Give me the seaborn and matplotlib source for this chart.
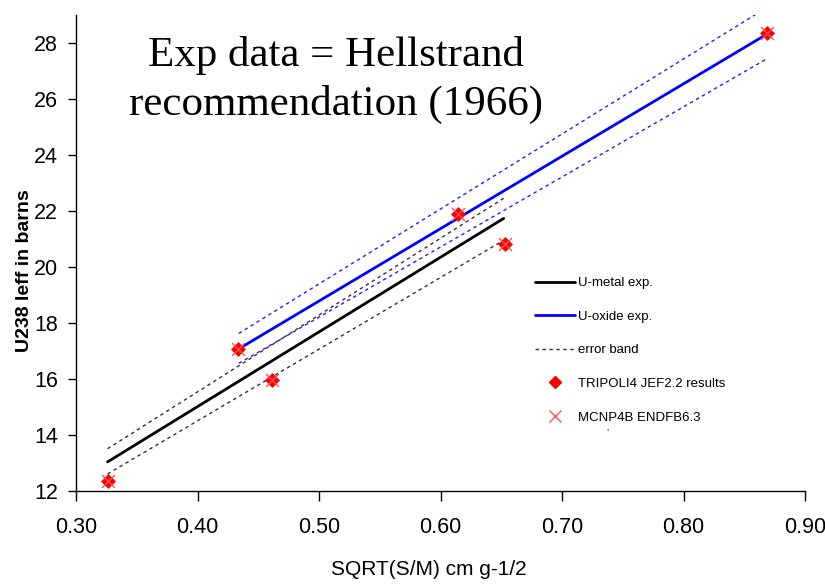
import matplotlib
matplotlib.use("Agg")
import matplotlib.pyplot as plt
from matplotlib.lines import Line2D
import seaborn as sns

# ---- data ----
metal_x = [0.326, 0.652]
metal_y = [13.03, 21.73]
metal_hi = [13.50, 22.45]
metal_lo = [12.60, 20.95]

oxide_x = [0.434, 0.868]
oxide_y = [17.07, 28.30]
oxide_hi = [17.62, 29.25]
oxide_lo = [16.55, 27.42]

calc_x = [0.326, 0.433, 0.461, 0.614, 0.653, 0.869]
tripoli_y = [12.34, 17.06, 15.94, 21.89, 20.80, 28.34]
mcnp_y = [12.34, 17.06, 15.94, 21.89, 20.80, 28.34]

x_ticks = [0.30, 0.40, 0.50, 0.60, 0.70, 0.80, 0.90]
y_ticks = [12, 14, 16, 18, 20, 22, 24, 26, 28]

sns.set_theme(style="white")
plt.rcParams["font.family"] = ["Liberation Sans", "DejaVu Sans"]
plt.rcParams["text.color"] = "black"
plt.rcParams["axes.labelcolor"] = "black"
plt.rcParams["xtick.color"] = "black"
plt.rcParams["ytick.color"] = "black"

fig = plt.figure(figsize=(8.25, 5.85), dpi=100)
ax = fig.add_axes([76 / 825, 1 - 490.7 / 585, 729 / 825, 475.7 / 585])

dash = (0, (2.5, 2.5))
sns.lineplot(x=metal_x, y=metal_hi, ax=ax, color="#333333", linewidth=1.0, linestyle=dash)
sns.lineplot(x=metal_x, y=metal_lo, ax=ax, color="#333333", linewidth=1.0, linestyle=dash)
sns.lineplot(x=oxide_x, y=oxide_hi, ax=ax, color="#2020ff", linewidth=1.0, linestyle=dash)
sns.lineplot(x=oxide_x, y=oxide_lo, ax=ax, color="#2020ff", linewidth=1.0, linestyle=dash)
sns.lineplot(x=metal_x, y=metal_y, ax=ax, color="black", linewidth=2.0)
sns.lineplot(x=oxide_x, y=oxide_y, ax=ax, color="#0000ff", linewidth=2.0)

sns.scatterplot(x=calc_x, y=tripoli_y, ax=ax, marker="D", s=50, color="#ff0000",
                edgecolor="#ff0000", linewidth=0.5, zorder=5)
sns.scatterplot(x=calc_x, y=mcnp_y, ax=ax, marker="x", s=85, color="#ff5050",
                linewidth=1.0, zorder=6)

ax.set_xlim(0.30, 0.90)
ax.set_ylim(12, 29)
ax.set_xticks(x_ticks)
ax.set_xticklabels([f"{v:.2f}" for v in x_ticks])
ax.set_yticks(y_ticks)
ax.set_yticklabels([str(v) for v in y_ticks])

for s in ["top", "right"]:
    ax.spines[s].set_visible(False)
for s in ["left", "bottom"]:
    ax.spines[s].set_color("black")
    ax.spines[s].set_linewidth(1.0)

ax.tick_params(axis="x", bottom=True, direction="out", length=7, width=1, color="black",
               labelcolor="black", labelsize=15.5, pad=12)
ax.tick_params(axis="y", left=True, direction="out", length=6, width=1, color="black",
               labelcolor="black", labelsize=15.5, pad=7)
ax.grid(False)

ax.set_xlabel("SQRT(S/M) cm g-1/2", fontsize=15, color="black")
ax.xaxis.set_label_coords(0.484, -0.146)
ax.set_ylabel("U238 Ieff in barns", fontsize=14, fontweight="bold", color="black")
ax.yaxis.set_label_coords(-0.059, 0.462)

fig.text(336 / 825, 1 - 80 / 585, "Exp data = Hellstrand\nrecommendation (1966)",
         family=["Liberation Serif", "DejaVu Serif"], fontsize=31, color="black",
         ha="center", va="center", linespacing=1.32)

handles = [
    Line2D([], [], color="black", lw=2.0),
    Line2D([], [], color="#0000ff", lw=2.0),
    Line2D([], [], color="#333333", lw=1.0, linestyle=dash),
    Line2D([], [], color="#ff0000", marker="D", markersize=6.5, linestyle="none"),
    Line2D([], [], color="#ff5050", marker="x", markersize=8, mew=1.0, linestyle="none"),
]
labels = ["U-metal exp.", "U-oxide exp.", "error band",
          "TRIPOLI4 JEF2.2 results", "MCNP4B ENDFB6.3"]
fig.legend(handles, labels, loc="upper left",
           bbox_to_anchor=(535 / 825, 1 - 277 / 585), bbox_transform=fig.transFigure,
           frameon=False, fontsize=9.5, handlelength=3.0, handletextpad=0.25,
           labelspacing=1.62, borderpad=0, borderaxespad=0, labelcolor="black")
fig.text(608 / 825, 1 - 432 / 585, "''", fontsize=6, color="#444444",
         ha="center", va="center")

fig.savefig("out.png", dpi=100)
